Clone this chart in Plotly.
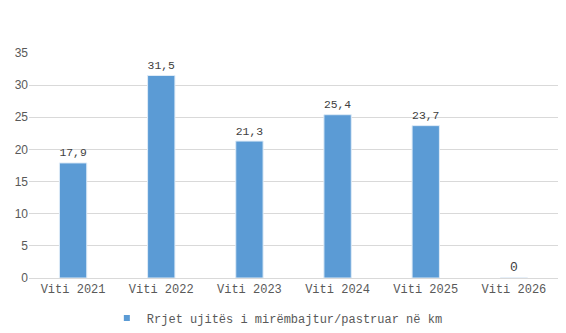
import plotly.graph_objects as go

categories = ["Viti 2021", "Viti 2022", "Viti 2023", "Viti 2024", "Viti 2025", "Viti 2026"]
values = [17.9, 31.5, 21.3, 25.4, 23.7, 0]
series_name = "Rrjet ujitës i mirëmbajtur/pastruar në km"
y_ticks = [0, 5, 10, 15, 20, 25, 30, 35]

MONO = "Liberation Mono, Courier New, monospace"
label_font = dict(family=MONO, size=13, color="#404040")

fig = go.Figure()
fig.add_trace(go.Bar(
    x=categories, y=values, name=series_name,
    marker=dict(color="#5B9BD5", line=dict(color="#DEEBF7", width=1)),
    text=values,
    texttemplate=["%{y:.1f}" if v != 0 else "0" for v in values],
    textposition="outside",
    textfont=label_font, outsidetextfont=label_font,
    cliponaxis=False, showlegend=False,
))
# legend entry with a small square marker
fig.add_trace(go.Scatter(
    x=[None], y=[None], mode="markers", name=series_name,
    marker=dict(symbol="square", size=6, color="#5B9BD5"),
    showlegend=True,
))

fig.update_layout(
    width=566, height=333,
    margin=dict(l=29, r=8, t=53, b=55, autoexpand=False),
    paper_bgcolor="white", plot_bgcolor="white",
    separators=", ",
    bargap=0.69,
    font=dict(family=MONO, size=12, color="#595959"),
    xaxis=dict(showgrid=False, showline=True, linecolor="#D9D9D9", linewidth=1,
               ticks="", automargin=False, tickfont=dict(size=12, color="#595959")),
    yaxis=dict(range=[0, 35], tickvals=y_ticks, showgrid=True, gridcolor="#D9D9D9",
               zeroline=False, showline=False, ticks="", automargin=False,
               tickfont=dict(family="Liberation Sans, Arial, sans-serif", size=12, color="#595959")),
    legend=dict(orientation="h", x=0.49, xanchor="center", xref="container",
                y=1 - 318 / 333, yanchor="middle", yref="container",
                font=dict(size=12, color="#595959"), itemwidth=30),
    showlegend=True,
)

fig.write_html("out.html")
